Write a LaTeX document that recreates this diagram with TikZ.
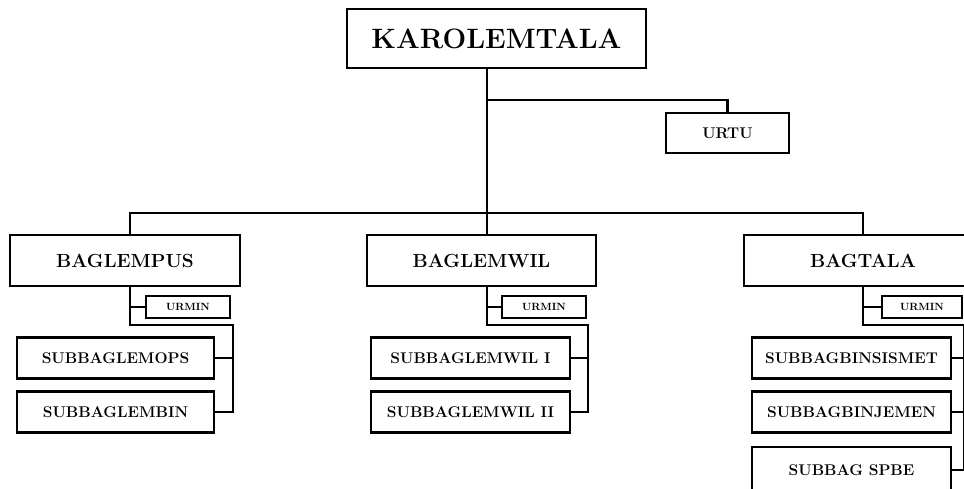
\documentclass[tikz,border=0pt]{standalone}
\usepackage{fontspec}
\usetikzlibrary{positioning}

\tikzset{
    unitbox/.style={draw, line width=2.6pt, fill=white, inner sep=0pt, font=\bfseries},
    headbox/.style={unitbox, font=\fontsize{28}{32}\selectfont\bfseries},
    bagbox/.style={unitbox, minimum height=51pt, font=\fontsize{19}{21}\selectfont\bfseries},
    subbox/.style={unitbox, minimum width=199pt, minimum height=41pt, font=\fontsize{15.5}{17}\selectfont\bfseries},
    urminbox/.style={unitbox, minimum height=22pt, font=\fontsize{10.5}{12}\selectfont\bfseries},
    wire/.style={line width=2.6pt, line join=miter},
}

\begin{document}
\begin{tikzpicture}[x=1pt, y=-1pt]
    \useasboundingbox (0,0) rectangle (964,488);
    \clip (0,0) rectangle (964,488);

    % head and staff unit
    \node[headbox, minimum width=299pt, minimum height=59pt] (KAR) at (496.5,38.5) {KAROLEMTALA};
    \node[unitbox, minimum width=123pt, minimum height=40pt, font=\fontsize{15.5}{17}\selectfont\bfseries] (URTU) at (727.5,133) {URTU};

    % divisions
    \node[bagbox, minimum width=230pt] (BAGLEMPUS) at (125,260.5)   {BAGLEMPUS};
    \node[bagbox, minimum width=229pt] (BAGLEMWIL) at (481.5,260.5) {BAGLEMWIL};
    \node[bagbox, minimum width=238pt] (BAGTALA)   at (863,260.5)   {BAGTALA};

    \node[urminbox, minimum width=84pt] (URMINa) at (188,307) {URMIN};
    \node[urminbox, minimum width=84pt] (URMINb) at (544,307) {URMIN};
    \node[urminbox, minimum width=80pt] (URMINc) at (922,307) {URMIN};

    % sub divisions
    \node[subbox, minimum width=197pt] (SUBLEMOPS) at (115.5,358) {SUBBAGLEMOPS};
    \node[subbox, minimum width=197pt] (SUBLEMBIN) at (115.5,412) {SUBBAGLEMBIN};
    \node[subbox] (SUBLEMWILa) at (470.5,358) {SUBBAGLEMWIL I};
    \node[subbox] (SUBLEMWILb) at (470.5,412) {SUBBAGLEMWIL II};
    \node[subbox] (SUBINSISMET) at (851.5,358) {SUBBAGBINSISMET};
    \node[subbox] (SUBINJEMEN)  at (851.5,412) {SUBBAGBINJEMEN};
    \node[subbox, minimum height=46pt] (SUBSPBE) at (851.5,470) {SUBBAG SPBE};

    \coordinate (bus) at (487,213);
    \coordinate (tu)  at (487,100);
    \coordinate (ta) at (130,325);  \coordinate (ka) at (233,325);
    \coordinate (tb) at (487,325);  \coordinate (kb) at (588,325);
    \coordinate (tc) at (863,325);  \coordinate (kc) at (964,325);

    \draw[wire] (KAR.south -| bus) -- (tb |- BAGLEMWIL.north);
    \draw[wire] (tu) -| (URTU.north);
    \draw[wire] (ta |- BAGLEMPUS.north) |- (bus) -| (tc |- BAGTALA.north);

    \draw[wire] (ta |- BAGLEMPUS.south) -- (ta) -- (ka) |- (SUBLEMBIN.east);
    \draw[wire] (URMINa.west) -- (URMINa.west -| ta);
    \draw[wire] (SUBLEMOPS.east) -- (SUBLEMOPS.east -| ka);

    \draw[wire] (tb |- BAGLEMWIL.south) -- (tb) -- (kb) |- (SUBLEMWILb.east);
    \draw[wire] (URMINb.west) -- (URMINb.west -| tb);
    \draw[wire] (SUBLEMWILa.east) -- (SUBLEMWILa.east -| kb);

    \draw[wire] (tc |- BAGTALA.south) -- (tc) -- (kc) |- (SUBSPBE.east -| kc);
    \draw[wire] (URMINc.west) -- (URMINc.west -| tc);
    \draw[wire] (SUBINSISMET.east) -- (SUBINSISMET.east -| kc);
    \draw[wire] (SUBINJEMEN.east) -- (SUBINJEMEN.east -| kc);
    \draw[wire] (SUBSPBE.east) -- (SUBSPBE.east -| kc);
\end{tikzpicture}
\end{document}
